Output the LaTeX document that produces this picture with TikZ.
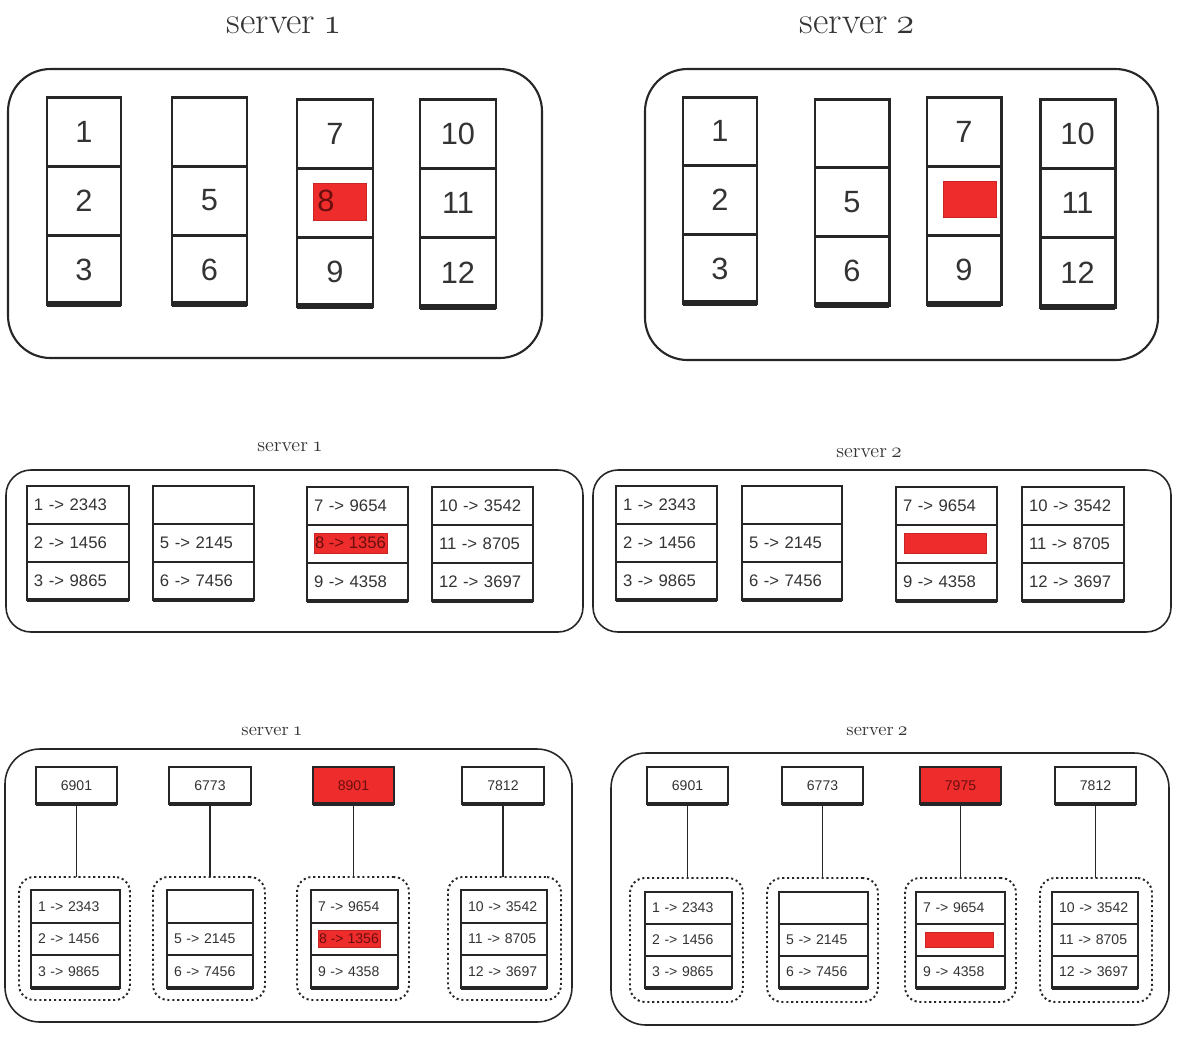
\documentclass[tikz,border=0pt]{standalone}
\usepackage{fontspec}
\setsansfont{Liberation Sans}
\definecolor{ink}{HTML}{262626}
\definecolor{txt}{HTML}{333333}
\definecolor{hired}{HTML}{EE2C2C}
\definecolor{darkred}{HTML}{6A0E0E}
\newcommand\osf[1]{{\usefont{OML}{cmm}{m}{it}#1}}
% #1 name, #2 xl, #3 xr, #4 yt, #5 yb, #6-#8 texts, #9 style
\newcommand\cellcolumn[9]{%
  \pgfmathsetmacro\cw{(#3-#2)*0.02}%
  \pgfmathsetmacro\ch{(#5-#4)*0.02/3}%
  \pgfmathsetmacro\tw{(#3-#2-14)*0.02}%
  \pgfmathsetmacro\cx{(#2+#3)/2}%
  \pgfmathsetmacro\yA{#4+(#5-#4)/6}%
  \pgfmathsetmacro\yB{#4+(#5-#4)/2}%
  \pgfmathsetmacro\yC{#4+5*(#5-#4)/6}%
  \node[#9, minimum width=\cw cm, minimum height=\ch cm, text width=\tw cm] (#1-1) at (\cx,\yA) {#6};
  \node[#9, minimum width=\cw cm, minimum height=\ch cm, text width=\tw cm] (#1-2) at (\cx,\yB) {#7};
  \node[#9, minimum width=\cw cm, minimum height=\ch cm, text width=\tw cm] (#1-3) at (\cx,\yC) {#8};
  \draw[#9bot] (#1-3.south west) -- (#1-3.south east);
}
\begin{document}
\begin{tikzpicture}[x=0.02cm,y=-0.02cm,
  every node/.style={inner sep=0pt, outer sep=0pt},
  bigpanel/.style={draw=ink, line width=1.2pt, rounded corners=0.85cm},
  midpanel/.style={draw=ink, line width=0.9pt, rounded corners=0.5cm},
  lowpanel/.style={draw=ink, line width=0.9pt, rounded corners=0.7cm},
  bigtitle/.style={font=\fontsize{21.5}{26}\selectfont, text=txt},
  midtitle/.style={font=\fontsize{11.5}{13}\selectfont, text=txt},
  lowtitle/.style={font=\fontsize{10.5}{12}\selectfont, text=txt},
  tcell/.style={draw=ink, line width=1.7pt, align=center, text=txt, font=\sffamily\fontsize{17.5}{20}\selectfont},
  tcellbot/.style={draw=ink, line width=3pt},
  mcell/.style={draw=ink, line width=1.1pt, align=left, text=txt, font=\sffamily\fontsize{9.5}{11}\selectfont},
  mcellbot/.style={draw=ink, line width=2.2pt},
  lcell/.style={draw=ink, line width=1.1pt, align=left, text=txt, font=\sffamily\fontsize{8}{10}\selectfont},
  lcellbot/.style={draw=ink, line width=2.2pt},
  keybox/.style={draw=ink, line width=1.1pt, minimum width=1.63cm, minimum height=0.74cm, text=txt, font=\sffamily\fontsize{8}{10}\selectfont},
  keyred/.style={keybox, fill=hired, text=darkred},
  group/.style={draw=ink, line width=1.1pt, dash pattern=on 1.2pt off 1.6pt, rounded corners=0.3cm},
  link/.style={draw=ink, line width=0.9pt},
  redmark/.style={fill=hired, draw=hired!85!black, line width=0.3pt}
]
\useasboundingbox (0,0) rectangle (1181,1036);
\fill[white] (0,0) rectangle (1181,1036);

% ================= TOP ROW =================
\node[bigtitle] (t1title) at (284,25) {server\hspace{0.22em}\osf{1}};
\node[bigtitle] (t2title) at (857,25) {server\hspace{0.22em}\osf{2}};
\draw[bigpanel] (8,69) rectangle (542,358);
\draw[bigpanel] (645,69) rectangle (1158,360);

\cellcolumn{ta1}{47}{121}{97}{304}{1}{2}{3}{tcell}
\cellcolumn{ta2}{172}{247}{97}{304}{}{5}{6}{tcell}
\cellcolumn{ta3}{297}{373}{99}{306}{7}{}{9}{tcell}
\cellcolumn{ta4}{420}{496}{99}{307}{10}{11}{12}{tcell}
\node[redmark, minimum width=1.06cm, minimum height=0.74cm] (tahl) at (339.5,201.5) {};
\node[text=darkred, font=\sffamily\fontsize{17.5}{20}\selectfont] (tahltxt) at (326,201) {8};

\cellcolumn{tb1}{683}{757}{97}{303}{1}{2}{3}{tcell}
\cellcolumn{tb2}{815}{889}{99}{305}{}{5}{6}{tcell}
\cellcolumn{tb3}{927}{1001}{97}{304}{7}{}{9}{tcell}
\cellcolumn{tb4}{1040}{1115}{99}{307}{10}{11}{12}{tcell}
\node[redmark, minimum width=1.06cm, minimum height=0.72cm] (tbhl) at (969.5,199) {};

% ================= MIDDLE ROW =================
\node[midtitle] (m1title) at (290,447) {server\hspace{0.22em}\osf{1}};
\node[midtitle] (m2title) at (869,453) {server\hspace{0.22em}\osf{2}};
\draw[midpanel] (6,470) rectangle (583,632);
\draw[midpanel] (593,470) rectangle (1171,632);

\cellcolumn{ma1}{27}{129}{486}{600}{1 -> 2343}{2 -> 1456}{3 -> 9865}{mcell}
\cellcolumn{ma2}{153}{254}{486}{600}{}{5 -> 2145}{6 -> 7456}{mcell}
\cellcolumn{ma3}{307}{408}{487}{601}{7 -> 9654}{}{9 -> 4358}{mcell}
\cellcolumn{ma4}{432}{533}{487}{601}{10 -> 3542}{11 -> 8705}{12 -> 3697}{mcell}
\node[redmark, minimum width=1.46cm, minimum height=0.4cm, text=darkred, font=\sffamily\fontsize{9.5}{11}\selectfont] (mahl) at (350.5,543) {8 -> 1356};

\cellcolumn{mb1}{616}{717}{486}{600}{1 -> 2343}{2 -> 1456}{3 -> 9865}{mcell}
\cellcolumn{mb2}{742}{842}{486}{600}{}{5 -> 2145}{6 -> 7456}{mcell}
\cellcolumn{mb3}{896}{997}{487}{601}{7 -> 9654}{}{9 -> 4358}{mcell}
\cellcolumn{mb4}{1022}{1124}{487}{601}{10 -> 3542}{11 -> 8705}{12 -> 3697}{mcell}
\node[redmark, minimum width=1.64cm, minimum height=0.4cm] (mbhl) at (945,543) {};

% ================= BOTTOM ROW =================
\node[lowtitle] (l1title) at (272,731) {server\hspace{0.22em}\osf{1}};
\node[lowtitle] (l2title) at (877,731) {server\hspace{0.22em}\osf{2}};
\draw[lowpanel] (5,749) rectangle (572,1022);
\draw[lowpanel] (611,753) rectangle (1169,1025);

% server 1
\node[keybox] (la-k1) at (76.5,785.5) {6901};
\node[keybox] (la-k2) at (210,785.5) {6773};
\node[keyred] (la-k3) at (353.5,785.5) {8901};
\node[keybox] (la-k4) at (503,785.5) {7812};
\node[group, minimum width=2.22cm, minimum height=2.46cm] (la-g1) at (74.5,938.5) {};
\node[group, minimum width=2.24cm, minimum height=2.46cm] (la-g2) at (209,938.5) {};
\node[group, minimum width=2.24cm, minimum height=2.46cm] (la-g3) at (353,938.5) {};
\node[group, minimum width=2.26cm, minimum height=2.46cm] (la-g4) at (504.5,938.5) {};
\cellcolumn{lac1}{31}{120}{890}{988}{1 -> 2343}{2 -> 1456}{3 -> 9865}{lcell}
\cellcolumn{lac2}{167}{253}{890}{988}{}{5 -> 2145}{6 -> 7456}{lcell}
\cellcolumn{lac3}{311}{398}{890}{988}{7 -> 9654}{}{9 -> 4358}{lcell}
\cellcolumn{lac4}{461}{547}{890}{988}{10 -> 3542}{11 -> 8705}{12 -> 3697}{lcell}
\node[redmark, minimum width=1.24cm, minimum height=0.34cm, text=darkred, font=\sffamily\fontsize{8}{10}\selectfont] (lahl) at (349,938.5) {8 -> 1356};
\foreach \i in {1,...,4} {
  \draw[link] (la-k\i.south) -- (la-k\i.south |- la-g\i.north);
  \draw[line width=2pt, draw=ink] (la-k\i.south west) -- (la-k\i.south east);
}

% server 2
\node[keybox] (lb-k1) at (687.5,785.5) {6901};
\node[keybox] (lb-k2) at (822.5,785.5) {6773};
\node[keyred] (lb-k3) at (960.5,785.5) {7975};
\node[keybox] (lb-k4) at (1095.5,785.5) {7812};
\node[group, minimum width=2.26cm, minimum height=2.48cm] (lb-g1) at (686.5,940) {};
\node[group, minimum width=2.22cm, minimum height=2.48cm] (lb-g2) at (822.5,940) {};
\node[group, minimum width=2.22cm, minimum height=2.48cm] (lb-g3) at (960.5,940) {};
\node[group, minimum width=2.24cm, minimum height=2.48cm] (lb-g4) at (1096,940) {};
\cellcolumn{lbc1}{645}{732}{892}{988}{1 -> 2343}{2 -> 1456}{3 -> 9865}{lcell}
\cellcolumn{lbc2}{779}{868}{892}{988}{}{5 -> 2145}{6 -> 7456}{lcell}
\cellcolumn{lbc3}{916}{1005}{892}{988}{7 -> 9654}{}{9 -> 4358}{lcell}
\cellcolumn{lbc4}{1052}{1138}{892}{988}{10 -> 3542}{11 -> 8705}{12 -> 3697}{lcell}
\node[redmark, minimum width=1.36cm, minimum height=0.3cm] (lbhl) at (959,939.5) {};
\foreach \i in {1,...,4} {
  \draw[link] (lb-k\i.south) -- (lb-k\i.south |- lb-g\i.north);
  \draw[line width=2pt, draw=ink] (lb-k\i.south west) -- (lb-k\i.south east);
}
\end{tikzpicture}
\end{document}
